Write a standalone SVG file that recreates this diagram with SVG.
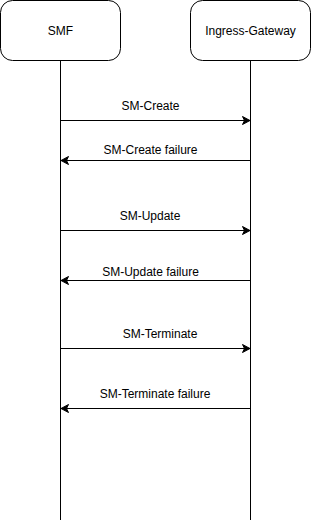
<svg xmlns="http://www.w3.org/2000/svg" width="311" height="522" viewBox="0 0 311 522">
<defs>
<style>
.box{fill:#fff;stroke:#000;stroke-width:1}
.life{stroke:#000;stroke-width:1;fill:none}
.msg{stroke:#000;stroke-width:1;fill:none;marker-end:url(#arr)}
text{font-family:"Liberation Sans",Arial,Helvetica,sans-serif;font-size:12px;fill:#000;text-anchor:middle}
</style>
<marker id="arr" markerUnits="userSpaceOnUse" markerWidth="10" markerHeight="10" viewBox="0 0 10 10" refX="9" refY="5" orient="auto">
<path d="M1.5,1 L9,5 L1.5,9 L3.5,5 Z" fill="#000" stroke="#000" stroke-width="1"/>
</marker>
</defs>
<g id="lifelines">
<line class="life" x1="60.5" y1="60.5" x2="60.5" y2="520"/>
<line class="life" x1="250.5" y1="60.5" x2="250.5" y2="520"/>
</g>
<g id="smf">
<rect class="box" x="0.5" y="0.5" width="120" height="60" rx="12" ry="12"/>
<text x="60.5" y="34.5">SMF</text>
</g>
<g id="ingress-gateway">
<rect class="box" x="190.5" y="0.5" width="120" height="60" rx="12" ry="12"/>
<text x="250.5" y="34.5">Ingress-Gateway</text>
</g>
<g id="connectors">
<line class="msg" x1="60.5" y1="120.5" x2="250" y2="120.5"/>
<text x="150.5" y="110">SM-Create</text>
<line class="msg" x1="250.5" y1="160.5" x2="61" y2="160.5"/>
<text x="150.5" y="154">SM-Create failure</text>
<line class="msg" x1="60.5" y1="230.5" x2="250" y2="230.5"/>
<text x="150" y="220">SM-Update</text>
<line class="msg" x1="250.5" y1="280.5" x2="61" y2="280.5"/>
<text x="150.5" y="275.5">SM-Update failure</text>
<line class="msg" x1="60.5" y1="348.5" x2="250" y2="348.5"/>
<text x="160" y="338">SM-Terminate</text>
<line class="msg" x1="250.5" y1="408.5" x2="61" y2="408.5"/>
<text x="155" y="398">SM-Terminate failure</text>
</g>
</svg>
